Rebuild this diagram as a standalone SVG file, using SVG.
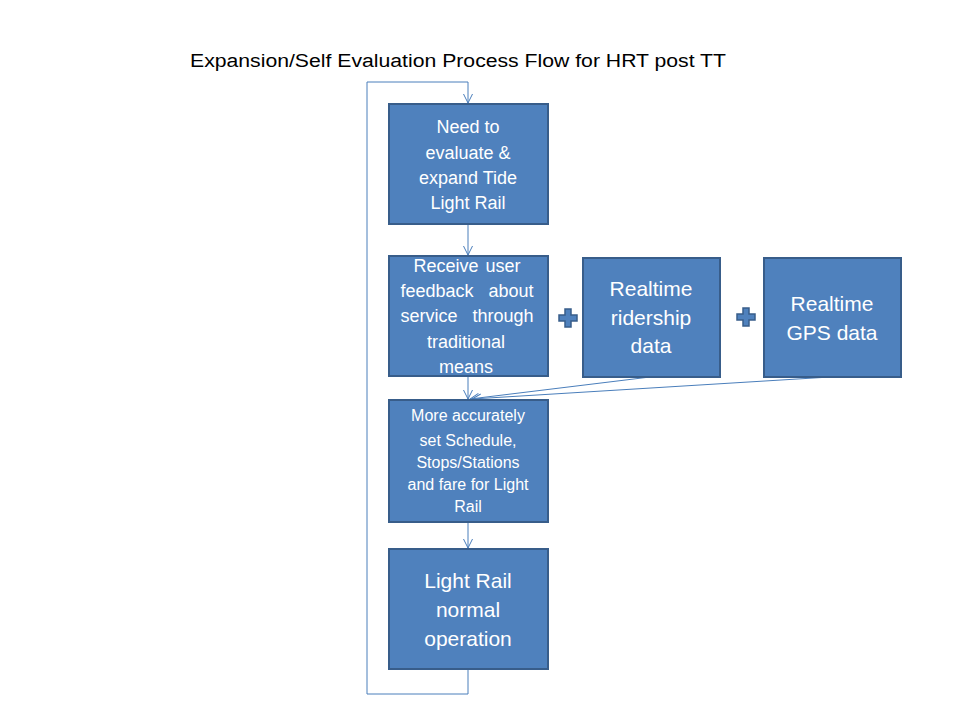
<svg xmlns="http://www.w3.org/2000/svg" width="960" height="720" viewBox="0 0 960 720">
<defs>
<style>
.box{fill:#4F81BD;stroke:#385D8A;stroke-width:2}
.t{font-family:"Liberation Sans",Arial,sans-serif;fill:#FFFFFF;text-anchor:middle}
.c{fill:none;stroke:#4A7EBB;stroke-width:1}
.plus{fill:#4F81BD;stroke:#385D8A;stroke-width:1.5}
</style>
<marker id="arr" markerWidth="12" markerHeight="10" refX="10" refY="5" orient="auto" markerUnits="userSpaceOnUse">
<path d="M1,0.5 L10,5 L1,9.5" fill="none" stroke="#4A7EBB" stroke-width="1"/>
</marker>
</defs>
<rect width="960" height="720" fill="#FFFFFF"/>
<text x="458" y="67" font-family="Liberation Sans,Arial,sans-serif" font-size="18" fill="#000000" text-anchor="middle" textLength="536" lengthAdjust="spacingAndGlyphs">Expansion/Self Evaluation Process Flow for HRT post TT</text>
<g id="connectors">
<path class="c" d="M468,669 V694 H367 V82 H468 V103" marker-end="url(#arr)"/>
<path class="c" d="M468,224 V255" marker-end="url(#arr)"/>
<path class="c" d="M468,376 V399" marker-end="url(#arr)"/>
<path class="c" d="M650,377 L470,399" marker-end="url(#arr)"/>
<path class="c" d="M830,377 L472,399" marker-end="url(#arr)"/>
<path class="c" d="M468,522 V548" marker-end="url(#arr)"/>
</g>
<g id="n1">
<rect class="box" x="389" y="104" width="159" height="120"/>
<text class="t" font-size="18"><tspan x="468" y="133">Need to</tspan><tspan x="468" y="159">evaluate &amp;</tspan><tspan x="468" y="184">expand Tide</tspan><tspan x="468" y="209">Light Rail</tspan></text>
</g>
<g id="n2">
<rect class="box" x="389" y="256" width="159" height="120"/>
<text class="t" font-size="18"><tspan x="467" y="272" word-spacing="2">Receive user</tspan><tspan x="467" y="297" word-spacing="10">feedback about</tspan><tspan x="467" y="322" word-spacing="10">service through</tspan><tspan x="466" y="348">traditional</tspan><tspan x="466" y="373">means</tspan></text>
</g>
<g id="plus1">
<path class="plus" d="M565,309 h6 v6 h6 v6 h-6 v6 h-6 v-6 h-6 v-6 h6 z"/>
</g>
<g id="n3">
<rect class="box" x="583" y="258" width="137" height="119"/>
<text class="t" font-size="21"><tspan x="651" y="296">Realtime</tspan><tspan x="651" y="325">ridership</tspan><tspan x="651" y="353">data</tspan></text>
</g>
<g id="plus2">
<path class="plus" d="M743,308 h6 v6 h6 v6 h-6 v6 h-6 v-6 h-6 v-6 h6 z"/>
</g>
<g id="n4">
<rect class="box" x="764" y="258" width="137" height="119"/>
<text class="t" font-size="21"><tspan x="832" y="311">Realtime</tspan><tspan x="832" y="340">GPS data</tspan></text>
</g>
<g id="n5">
<rect class="box" x="389" y="400" width="159" height="122"/>
<text class="t" font-size="16"><tspan x="468" y="421">More accurately</tspan><tspan x="468" y="446">set Schedule,</tspan><tspan x="468" y="468">Stops/Stations</tspan><tspan x="468" y="490">and fare for Light</tspan><tspan x="468" y="512">Rail</tspan></text>
</g>
<g id="n6">
<rect class="box" x="389" y="549" width="159" height="120"/>
<text class="t" font-size="21"><tspan x="468" y="588">Light Rail</tspan><tspan x="468" y="617">normal</tspan><tspan x="468" y="646">operation</tspan></text>
</g>
</svg>
